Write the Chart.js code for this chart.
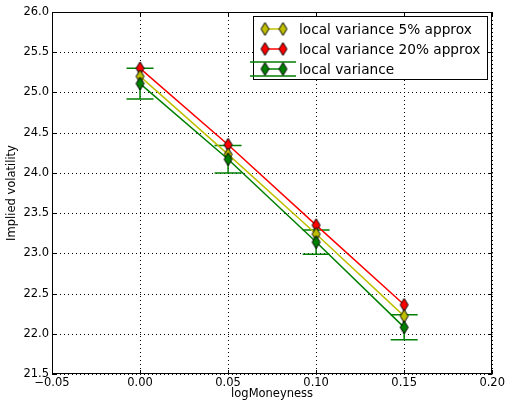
<!DOCTYPE html>
<html>
<head>
<meta charset="utf-8">
<script src="https://cdn.jsdelivr.net/npm/chart.js@4"></script>
<style>
html, body { margin: 0; padding: 0; background: #fff; }
</style>
</head>
<body>
<canvas id="graph" width="507" height="403"></canvas>
<script>
var logMoneyness = [0.0, 0.05, 0.10, 0.15];
var approx5 = [25.20, 24.23, 23.24, 22.22];
var approx20 = [25.30, 24.35, 23.35, 22.36];
var localVar = [25.11, 24.17, 23.14, 22.08];
var localVarErr = [0.19, 0.17, 0.15, 0.155];

var xTicks = [-0.05, 0.0, 0.05, 0.10, 0.15, 0.20];
var yTicks = [21.5, 22.0, 22.5, 23.0, 23.5, 24.0, 24.5, 25.0, 25.5, 26.0];

var seriesNames = ["local variance 5% approx", "local variance 20% approx", "local variance"];
var seriesColors = ["#bfbf00", "#ff0000", "#008000"];

var font = "DejaVu Sans";

// thin diamond marker with black edge
function diamond(fill) {
    var c = document.createElement('canvas');
    c.width = 11; c.height = 15;
    var g = c.getContext('2d');
    g.beginPath();
    g.moveTo(5.5, 1);
    g.lineTo(9.5, 7.5);
    g.lineTo(5.5, 14);
    g.lineTo(1.5, 7.5);
    g.closePath();
    g.fillStyle = fill;
    g.fill();
    g.strokeStyle = '#000';
    g.lineWidth = 1;
    g.stroke();
    return c;
}

function pts(ys) {
    return logMoneyness.map(function (x, i) { return {x: x, y: ys[i]}; });
}

var markers = seriesColors.map(diamond);

function dataset(i, ys) {
    return {
        label: seriesNames[i],
        data: pts(ys),
        borderColor: seriesColors[i],
        backgroundColor: seriesColors[i],
        borderWidth: 1.5,
        pointStyle: markers[i],
        pointRadius: 6,
        showLine: true,
        tension: 0
    };
}

function fmtMinus(s) { return s.replace('-', '\u2212'); }

// dotted grid, then vertical error bars with caps for the local variance series
var errorBars = {
    id: 'errorBars',
    beforeDatasetsDraw: function (chart) {
        var g = chart.ctx, a = chart.chartArea, xs = chart.scales.x, ys = chart.scales.y;
        g.save();
        g.strokeStyle = '#000';
        g.lineWidth = 1;
        g.setLineDash([1, 3]);
        g.beginPath();
        xTicks.forEach(function (v) {
            var px = Math.round(xs.getPixelForValue(v)) + 0.5;
            g.moveTo(px, a.top); g.lineTo(px, a.bottom);
        });
        yTicks.forEach(function (v) {
            var py = Math.round(ys.getPixelForValue(v)) + 0.5;
            g.moveTo(a.left, py); g.lineTo(a.right, py);
        });
        g.stroke();
        g.setLineDash([]);

        g.strokeStyle = seriesColors[2];
        g.lineWidth = 1.5;
        logMoneyness.forEach(function (x, i) {
            var px = xs.getPixelForValue(x);
            var top = ys.getPixelForValue(localVar[i] + localVarErr[i]);
            var bot = ys.getPixelForValue(localVar[i] - localVarErr[i]);
            g.beginPath();
            g.moveTo(px, top); g.lineTo(px, bot);
            g.moveTo(px - 13.5, top); g.lineTo(px + 13.5, top);
            g.moveTo(px - 13.5, bot); g.lineTo(px + 13.5, bot);
            g.stroke();
        });
        g.restore();
    }
};

// axes frame with inward ticks on all four sides
var frame = {
    id: 'frame',
    afterDatasetsDraw: function (chart) {
        var g = chart.ctx, a = chart.chartArea, xs = chart.scales.x, ys = chart.scales.y;
        g.save();
        g.strokeStyle = '#000';
        g.lineWidth = 1;
        g.strokeRect(Math.round(a.left) + 0.5, Math.round(a.top) + 0.5,
            Math.round(a.right - a.left) - 1, Math.round(a.bottom - a.top) - 1);
        g.beginPath();
        xTicks.forEach(function (v) {
            var px = Math.round(xs.getPixelForValue(v)) + 0.5;
            g.moveTo(px, a.bottom); g.lineTo(px, a.bottom - 4);
            g.moveTo(px, a.top); g.lineTo(px, a.top + 4);
        });
        yTicks.forEach(function (v) {
            var py = Math.round(ys.getPixelForValue(v)) + 0.5;
            g.moveTo(a.left, py); g.lineTo(a.left + 4, py);
            g.moveTo(a.right, py); g.lineTo(a.right - 4, py);
        });
        g.stroke();
        g.restore();
    }
};

// boxed legend in the upper right corner
var boxLegend = {
    id: 'boxLegend',
    afterDraw: function (chart) {
        var g = chart.ctx;
        var left = 253.5, top = 16.5, w = 234, h = 63;
        var rows = [29, 49, 69];
        g.save();
        g.fillStyle = '#fff';
        g.fillRect(left, top, w, h);
        g.strokeStyle = '#000';
        g.lineWidth = 1;
        g.strokeRect(left, top, w, h);
        // error bar caps of the local variance handle
        g.strokeStyle = seriesColors[2];
        g.lineWidth = 1.5;
        g.beginPath();
        g.moveTo(250, rows[2] - 7); g.lineTo(296, rows[2] - 7);
        g.moveTo(250, rows[2] + 7); g.lineTo(296, rows[2] + 7);
        g.stroke();
        g.font = '13.7px "' + font + '"';
        g.textBaseline = 'middle';
        seriesNames.forEach(function (name, i) {
            var y = rows[i];
            g.strokeStyle = seriesColors[i];
            g.lineWidth = 1.5;
            g.beginPath();
            g.moveTo(265, y); g.lineTo(283, y);
            g.stroke();
            g.drawImage(markers[i], 265 - 5.5, y - 7.5);
            g.drawImage(markers[i], 283 - 5.5, y - 7.5);
            g.fillStyle = '#000';
            g.fillText(name, 299, y + 1);
        });
        g.restore();
    }
};

var ctx = document.getElementById("graph").getContext('2d');

var chartData = {
    datasets: [
        dataset(2, localVar),
        dataset(0, approx5),
        dataset(1, approx20)
    ]
};

var myChart = new Chart(ctx, {
    type: 'scatter',
    data: chartData,
    options: {
        responsive: false,
        animation: false,
        layout: { padding: { top: 12, right: 13, left: 0, bottom: 0 } },
        plugins: { legend: { display: false }, tooltip: { enabled: false } },
        scales: {
            x: {
                type: 'linear',
                min: -0.05,
                max: 0.20,
                afterBuildTicks: function (s) { s.ticks = xTicks.map(function (v) { return {value: v}; }); },
                afterFit: function (s) { s.height = 29; },
                ticks: {
                    color: '#000',
                    font: { family: font, size: 11.5 },
                    padding: 2,
                    maxRotation: 0,
                    autoSkip: false,
                    callback: function (v) { return fmtMinus(v.toFixed(2)); }
                },
                grid: { drawOnChartArea: false, drawTicks: false },
                border: { display: false },
                title: {
                    display: true,
                    text: 'logMoneyness',
                    color: '#000',
                    font: { family: font, size: 11.5 },
                    padding: { top: 0, bottom: 2 }
                }
            },
            y: {
                type: 'linear',
                min: 21.5,
                max: 26.0,
                afterBuildTicks: function (s) { s.ticks = yTicks.map(function (v) { return {value: v}; }); },
                afterFit: function (s) { s.width = 52; },
                ticks: {
                    color: '#000',
                    font: { family: font, size: 11.5 },
                    padding: 3,
                    autoSkip: false,
                    callback: function (v) { return v.toFixed(1); }
                },
                grid: { drawOnChartArea: false, drawTicks: false },
                border: { display: false },
                title: {
                    display: true,
                    text: 'Implied volatility',
                    color: '#000',
                    font: { family: font, size: 11.5 },
                    padding: { top: 5, bottom: 0 }
                }
            }
        }
    },
    plugins: [errorBars, frame, boxLegend]
});
</script>
</body>
</html>
